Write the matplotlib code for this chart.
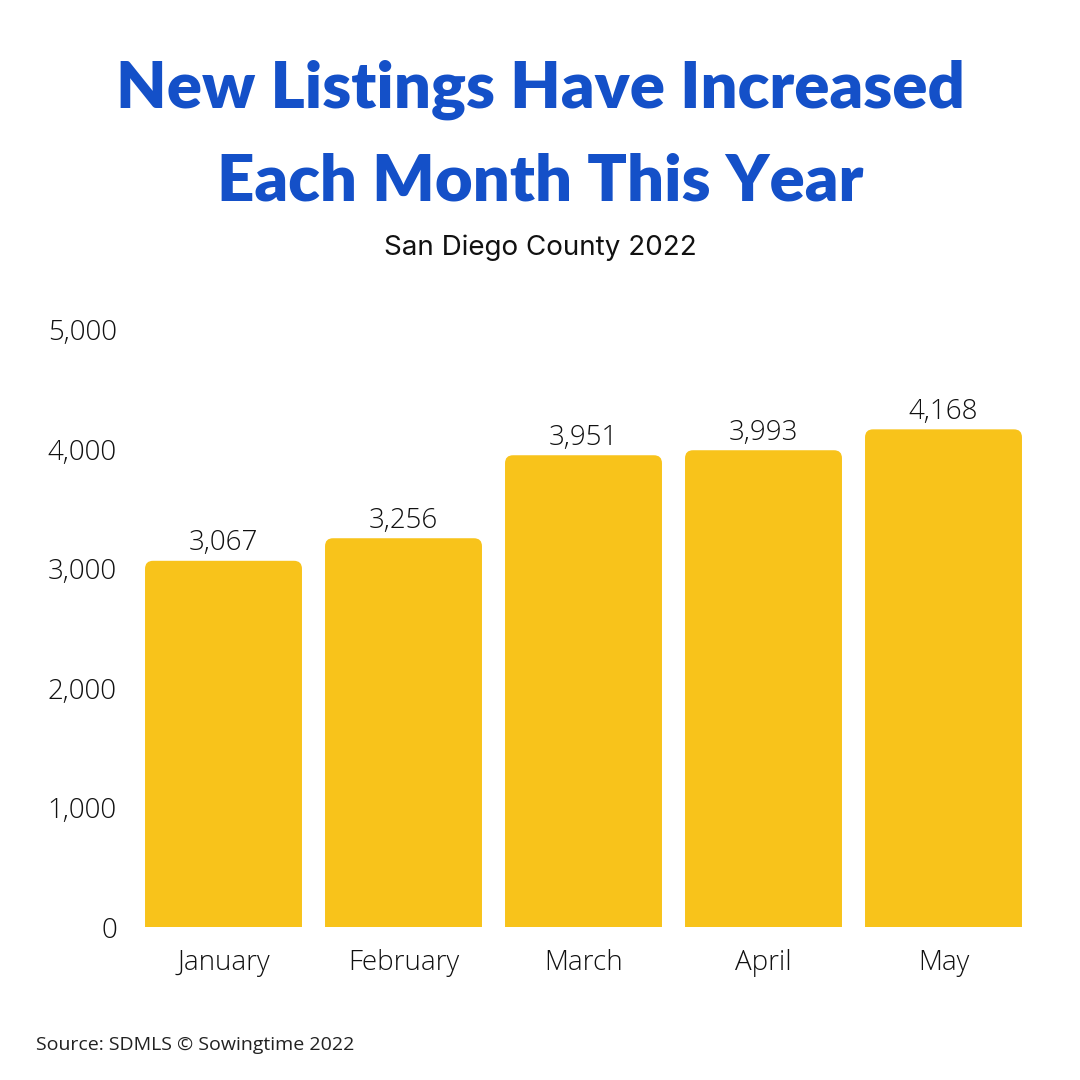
import matplotlib.pyplot as plt
from matplotlib.patches import FancyBboxPatch
from matplotlib.ticker import FuncFormatter

months = ['January', 'February', 'March', 'April', 'May']
new_listings = [3067, 3256, 3951, 3993, 4168]
y_ticks = [0, 1000, 2000, 3000, 4000, 5000]

BAR_COLOR = '#F8C31B'
TITLE_COLOR = '#1450C8'
LABEL_FONT = ['Open Sans', 'DejaVu Sans']
TITLE_FONT = ['Lato', 'DejaVu Sans']

fig = plt.figure(figsize=(10.8, 10.8), dpi=100)
fig.patch.set_facecolor('white')

# axes placed in figure pixels: x 133..1033, y 330..927 (from top)
ax = fig.add_axes([133.5 / 1080, (1080 - 927) / 1080, 900 / 1080, (927 - 330) / 1080])

x = list(range(len(months)))
bars = ax.bar(x, new_listings, width=0.872, color=BAR_COLOR)

ax.set_xlim(-0.5, len(months) - 0.5)
ax.set_ylim(0, 5000)

# swap plain bars for ones with rounded top corners
px_x = 900 / len(months)          # pixels per x unit
px_y = (927 - 330) / 5000         # pixels per y unit
aspect = px_x / px_y
radius = 8 / px_x
for b in bars:
    b.set_visible(False)
    patch = FancyBboxPatch((b.get_x(), -400), b.get_width(), b.get_height() + 400,
                           boxstyle=f'round,pad=0,rounding_size={radius}',
                           mutation_aspect=aspect, facecolor=BAR_COLOR,
                           edgecolor='none', clip_on=True)
    ax.add_patch(patch)
    ax.text(b.get_x() + b.get_width() / 2, b.get_height() + 30, f'{b.get_height():,.0f}',
            ha='center', va='bottom', fontsize=20, color='#111111',
            family=LABEL_FONT, fontweight='light')

ax.set_xticks(x)
ax.set_xticklabels(months)
ax.set_yticks(y_ticks)
ax.yaxis.set_major_formatter(FuncFormatter(lambda v, _: f'{v:,.0f}'))
ax.tick_params(length=0, labelsize=20, colors='#111111')
ax.tick_params(axis='y', pad=12)
ax.tick_params(axis='x', pad=16)
for lbl in ax.get_xticklabels() + ax.get_yticklabels():
    lbl.set_family(LABEL_FONT)
    lbl.set_fontweight('light')
for s in ax.spines.values():
    s.set_visible(False)

fig.text(0.5, 1 - 90 / 1080, 'New Listings Have Increased', ha='center', va='center',
         fontsize=47, fontweight='heavy', color=TITLE_COLOR, family=TITLE_FONT)
fig.text(0.5, 1 - 182 / 1080, 'Each Month This Year', ha='center', va='center',
         fontsize=47, fontweight='heavy', color=TITLE_COLOR, family=TITLE_FONT)
fig.text(0.5, 1 - 248 / 1080, 'San Diego County 2022', ha='center', va='center',
         fontsize=20, color='#111111', family=['Inter', 'DejaVu Sans'])
fig.text(36 / 1080, 1 - 1045 / 1080, 'Source: SDMLS \u00a9 Sowingtime 2022', ha='left', va='center',
         fontsize=14, color='#222222', family=LABEL_FONT)

fig.savefig('out.png', dpi=100, facecolor='white')
